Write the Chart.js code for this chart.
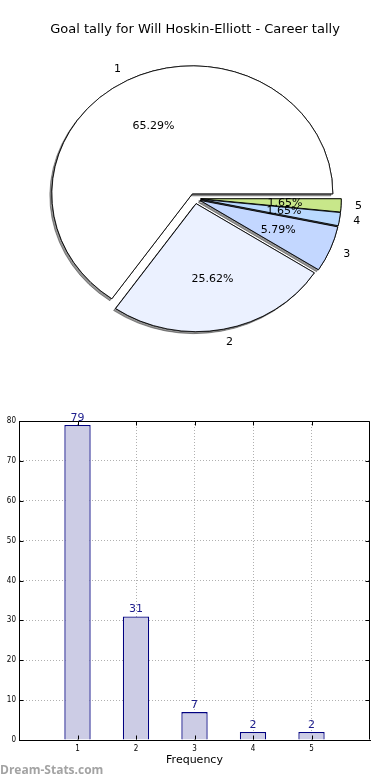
<!DOCTYPE html>
<html><head><meta charset="utf-8">
<script src="https://cdn.jsdelivr.net/npm/chart.js@4.4.0/dist/chart.umd.min.js"></script>
<style>
html,body{margin:0;padding:0;background:#fff;width:390px;height:780px;overflow:hidden;}
#pieWrap{position:absolute;left:0;top:0;width:390px;height:380px;}
#barWrap{position:absolute;left:0;top:400px;width:390px;height:380px;}
#wm{position:absolute;left:0;top:761px;font:bold 12px "Open Sans",sans-serif;color:#a3a3a3;white-space:nowrap;}
</style></head><body>
<div id="pieWrap"><canvas id="pie" width="390" height="380"></canvas></div>
<div id="barWrap"><canvas id="bar" width="390" height="380"></canvas></div>
<div id="wm">Dream-Stats.com</div>
<script>
// ---- data ----
const chartTitle = 'Goal tally for Will Hoskin-Elliott - Career tally';
const categories = ['1', '2', '3', '4', '5'];
const goalCounts = [79, 31, 7, 2, 2];
const sliceColors = ['#ffffff', '#ebf1ff', '#c3d7ff', '#b9d9ff', '#c8e78a'];
const xTickValues = [1, 2, 3, 4, 5];
const yTickValues = [0, 10, 20, 30, 40, 50, 60, 70, 80];
const xAxisTitle = 'Frequency';

// ---- style constants ----
const Y_SCALE = 0.911;      // pie drawn as ellipse like the original
const EXPLODE_PX = 5.75;
const rev = a => a.slice().reverse();

// ---------- PIE ----------
const pieDecor = {
  id: 'pieDecor',
  beforeDatasetDraw(chart, args) {
    const meta = args.meta;
    const ctx = chart.ctx;
    const c = meta.data[0];
    const drawAll = (shadow) => {
      ctx.save();
      ctx.translate(c.x, c.y); ctx.scale(1, Y_SCALE); ctx.translate(-c.x, -c.y);
      if (shadow) {
        ctx.shadowColor = 'rgba(0,0,0,0.42)';
        ctx.shadowOffsetX = -2; ctx.shadowOffsetY = 2; ctx.shadowBlur = 0;
      }
      meta.data.forEach(arc => {
        const mid = (arc.startAngle + arc.endAngle) / 2;
        ctx.save();
        ctx.translate(Math.cos(mid) * EXPLODE_PX, Math.sin(mid) * EXPLODE_PX);
        arc.draw(ctx, chart.chartArea);
        ctx.restore();
      });
      ctx.restore();
    };
    drawAll(true);
    drawAll(false);
    return false;
  },
  afterDatasetsDraw(chart) {
    const ctx = chart.ctx;
    const meta = chart.getDatasetMeta(0);
    const labels = chart.data.labels;
    const data = chart.data.datasets[0].data;
    const total = data.reduce((s, v) => s + v, 0);
    ctx.save();
    ctx.font = '11px "DejaVu Sans"';
    ctx.fillStyle = '#000';
    ctx.textBaseline = 'middle';
    meta.data.forEach((arc, i) => {
      const mid = (arc.startAngle + arc.endAngle) / 2;
      const cs = Math.cos(mid), sn = Math.sin(mid);
      const cx = arc.x + cs * EXPLODE_PX;
      const cy = arc.y + sn * EXPLODE_PX * Y_SCALE;
      const r = arc.outerRadius;
      ctx.textAlign = cs > 0 ? 'left' : 'right';
      ctx.fillText(labels[i], cx + cs * r * 1.1, cy + sn * r * 1.1 * Y_SCALE);
      ctx.textAlign = 'center';
      const pct = (data[i] / total * 100).toFixed(2) + '%';
      ctx.fillText(pct, cx + cs * r * 0.6, cy + sn * r * 0.6 * Y_SCALE);
    });
    ctx.restore();
  }
};

new Chart(document.getElementById('pie'), {
  type: 'pie',
  data: {
    labels: rev(categories),
    datasets: [{
      data: rev(goalCounts),
      backgroundColor: rev(sliceColors),
      borderColor: '#000',
      borderWidth: 0.9,
      offset: 0,
      hoverOffset: 0
    }]
  },
  options: {
    responsive: false,
    animation: false,
    events: [],
    rotation: 90,
    radius: 140.5,
    layout: { padding: { top: 0, bottom: 30.6, left: 0, right: 0 } },
    plugins: {
      legend: { display: false },
      tooltip: { enabled: false },
      title: {
        display: true, text: chartTitle, color: '#000',
        font: { family: 'DejaVu Sans', size: 13, weight: 'normal' },
        padding: { top: 22, bottom: 10 }
      }
    }
  },
  plugins: [pieDecor]
});

// ---------- BAR ----------
const barDecor = {
  id: 'barDecor',
  afterDraw(chart) {
    const ctx = chart.ctx;
    const a = chart.chartArea;
    const xs = chart.scales.x, ys = chart.scales.y;
    ctx.save();
    ctx.strokeStyle = '#000';
    ctx.lineWidth = 1;
    const L = Math.round(a.left) + 0.5, R = Math.round(a.right) - 0.5;
    const T = Math.round(a.top) + 0.5, B = Math.round(a.bottom) - 0.5;
    ctx.beginPath();
    ctx.moveTo(L, T); ctx.lineTo(R, T); ctx.lineTo(R, B);
    yTickValues.forEach(v => {
      const py = Math.round(ys.getPixelForValue(v)) + 0.5;
      ctx.moveTo(L, py); ctx.lineTo(L + 4, py);
      ctx.moveTo(R, py); ctx.lineTo(R - 4, py);
    });
    xTickValues.forEach(v => {
      const px = Math.round(xs.getPixelForValue(v)) + 0.5;
      ctx.moveTo(px, B); ctx.lineTo(px, B - 4);
      ctx.moveTo(px, T); ctx.lineTo(px, T + 4);
    });
    ctx.stroke();
    // value labels
    ctx.font = '11px "DejaVu Sans"';
    ctx.fillStyle = '#1c1c8c';
    ctx.textAlign = 'center';
    ctx.textBaseline = 'alphabetic';
    const meta = chart.getDatasetMeta(0);
    meta.data.forEach((bar, i) => {
      ctx.fillText(String(goalCounts[i]), bar.x, bar.y - 4);
    });
    ctx.restore();
  }
};

new Chart(document.getElementById('bar'), {
  type: 'bar',
  data: {
    datasets: [{
      data: categories.map((c, i) => ({ x: Number(c), y: goalCounts[i] })),
      backgroundColor: '#ccccE5',
      borderColor: '#000080',
      borderWidth: 1.3,
      barPercentage: 0.45,
      categoryPercentage: 1
    }]
  },
  options: {
    responsive: false,
    animation: false,
    events: [],
    layout: { padding: { top: 21, right: 20, left: 0, bottom: 0 } },
    plugins: { legend: { display: false }, tooltip: { enabled: false } },
    scales: {
      x: {
        type: 'linear', min: 0, max: 6, offset: false, z: 1,
        afterBuildTicks: s => { s.ticks = xTickValues.map(v => ({ value: v })); },
        afterFit: s => { s.height = 40; },
        grid: { offset: false, color: '#b0b0b0', drawTicks: false, lineWidth: 1 },
        border: { display: true, color: '#000', width: 1, dash: [1, 2] },
        ticks: { color: '#000', padding: 4, font: { family: '"Liberation Sans Narrow", "DejaVu Sans Condensed", "Liberation Sans"', size: 8 } },
        title: { display: true, text: xAxisTitle, color: '#000', font: { family: 'DejaVu Sans', size: 11 }, padding: { top: 0, bottom: 13.4 } }
      },
      y: {
        min: 0, max: 80, z: 1,
        afterBuildTicks: s => { s.ticks = yTickValues.map(v => ({ value: v })); },
        afterFit: s => { s.width = 19; },
        grid: { color: '#b0b0b0', drawTicks: false, lineWidth: 1 },
        border: { display: true, color: '#000', width: 1, dash: [1, 2] },
        ticks: { color: '#000', padding: 3, font: { family: '"Liberation Sans Narrow", "DejaVu Sans Condensed", "Liberation Sans"', size: 8 } }
      }
    }
  },
  plugins: [barDecor]
});
</script>
</body></html>
